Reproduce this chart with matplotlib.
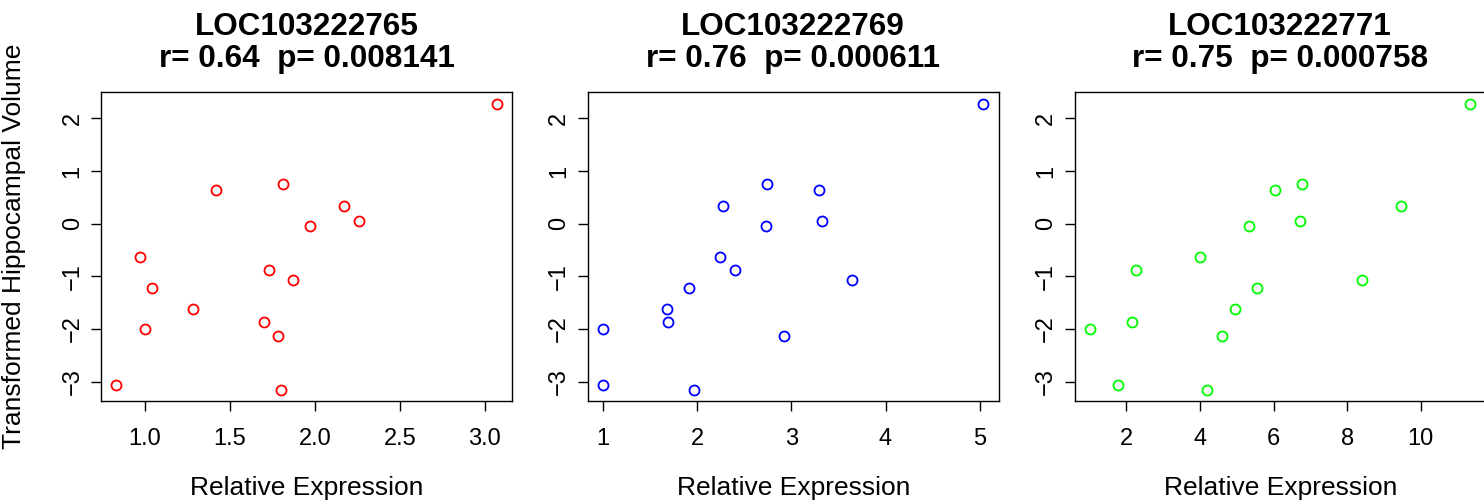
import matplotlib
matplotlib.use("Agg")
import matplotlib.pyplot as plt
import numpy as np

plt.rcParams['font.family'] = ['Liberation Sans', 'DejaVu Sans']

# Shared y values (transformed hippocampal volume), 16 subjects
volume = [2.28, 0.75, 0.65, 0.33, 0.06, -0.04, -0.63, -0.87,
          -1.06, -1.23, -1.61, -1.87, -2.00, -2.14, -3.06, -3.15]

expr_765 = [3.07, 1.81, 1.42, 2.17, 2.26, 1.97, 0.97, 1.73,
            1.87, 1.04, 1.28, 1.70, 1.00, 1.78, 0.83, 1.80]
expr_769 = [5.04, 2.74, 3.29, 2.28, 3.33, 2.73, 2.24, 2.40,
            3.64, 1.91, 1.68, 1.69, 1.00, 2.92, 1.00, 1.97]
expr_771 = [11.35, 6.76, 6.05, 9.47, 6.71, 5.33, 4.01, 2.25,
            8.39, 5.54, 4.96, 2.15, 1.01, 4.59, 1.76, 4.18]

genes = ["LOC103222765", "LOC103222769", "LOC103222771"]
r_vals = ["0.64", "0.76", "0.75"]
p_vals = ["0.008141", "0.000611", "0.000758"]
colors = ["#FF0000", "#0000FF", "#00FF00"]
xticks_list = [[1.0, 1.5, 2.0, 2.5, 3.0], [1, 2, 3, 4, 5], [2, 4, 6, 8, 10]]
xticklabels_list = [["1.0", "1.5", "2.0", "2.5", "3.0"],
                    ["1", "2", "3", "4", "5"],
                    ["2", "4", "6", "8", "10"]]
yticks = [-3, -2, -1, 0, 1, 2]
xlabel = "Relative Expression"
ylabel = "Transformed Hippocampal Volume"

W, H = 1484, 504
fig = plt.figure(figsize=(W / 100, H / 100), dpi=100)

lefts = [101, 587.7, 1074.7]
ax_w = 411
top_px, bot_px = 92.3, 401

def padded(vals):
    lo, hi = min(vals), max(vals)
    d = (hi - lo) * 0.04
    return lo - d, hi + d

for i, xs in enumerate([expr_765, expr_769, expr_771]):
    ax = fig.add_axes([lefts[i] / W, (H - bot_px) / H, ax_w / W, (bot_px - top_px) / H])
    ax.plot(xs, volume, linestyle='none', marker='o', markersize=7.2,
            markerfacecolor='none', markeredgecolor=colors[i], markeredgewidth=1.3)
    ax.set_xlim(*padded(xs))
    ax.set_ylim(*padded(volume))
    ax.set_xticks(xticks_list[i])
    ax.set_xticklabels(xticklabels_list[i])
    ax.set_yticks(yticks)
    ax.set_yticklabels([str(v).replace('-', '\u2212') for v in yticks],
                       rotation=90, va='center')
    ax.tick_params(axis='both', direction='out', length=7.5, width=1.0,
                   labelsize=17, color='black')
    ax.tick_params(axis='x', pad=12)
    ax.tick_params(axis='y', pad=5)
    for s in ax.spines.values():
        s.set_linewidth(1.0)
    ax.set_title(f"{genes[i]}\nr= {r_vals[i]}  p= {p_vals[i]}",
                 fontsize=22.7, fontweight='bold', pad=18, linespacing=1.1)
    ax.set_xlabel(xlabel, fontsize=19, labelpad=19)
    if i == 0:
        ax.set_ylabel(ylabel, fontsize=19, labelpad=26)

fig.savefig("out.png", dpi=100)
